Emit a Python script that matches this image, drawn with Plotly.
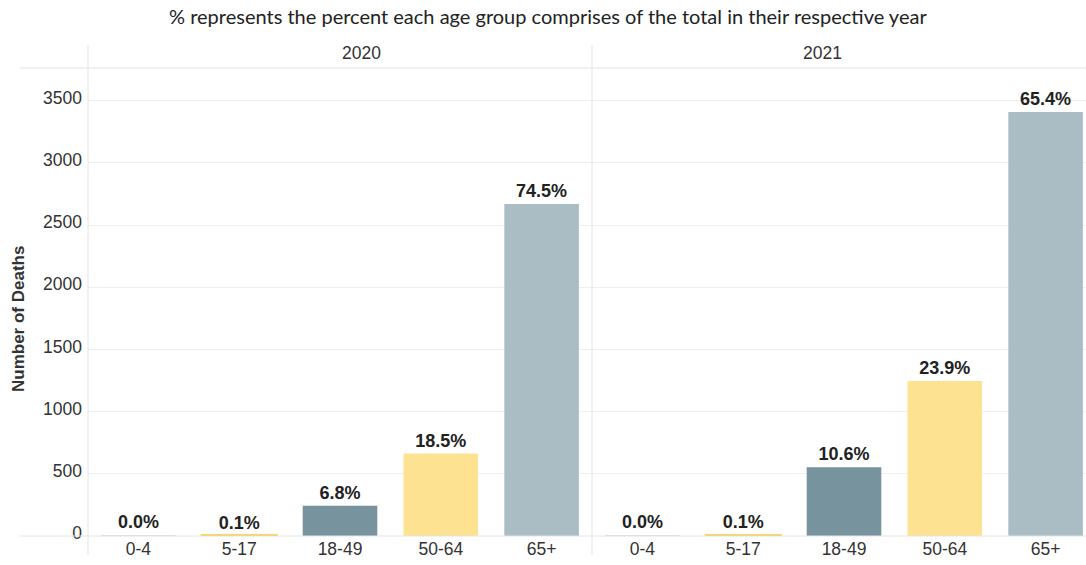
import plotly.graph_objects as go

years = ["2020", "2021"]
age_groups = ["0-4", "5-17", "18-49", "50-64", "65+"]
deaths_2020 = [1, 4, 244, 663, 2670]
deaths_2021 = [1, 5, 552, 1246, 3410]
bar_colors = ["#d9d9d9", "#f8c936", "#77939e", "#fde391", "#aabdc5"]
y_ticks = [0, 500, 1000, 1500, 2000, 2500, 3000, 3500]

YMAX = 3763
W, H = 1086, 565
L, R, T, B = 88, 0, 68, 29
PW = W - L - R
PH = H - T - B
split = (592 - L) / PW
panel1_px = 592 - L
panel2_px = W - 592
cat_px = panel1_px / 5

fig = go.Figure()
txt_font = dict(family="Liberation Sans, Arial", size=18, color="#222222")
line_widths = [0, 2.5, 0, 0, 0]

for i, (yr, vals) in enumerate(zip(years, [deaths_2020, deaths_2021])):
    total = sum(vals)
    labels = [f"<b>{v / total * 100:.1f}%</b>" for v in vals]
    fig.add_trace(go.Bar(
        x=age_groups, y=vals,
        marker=dict(color=bar_colors, line=dict(color=bar_colors, width=line_widths)),
        text=labels, textposition="outside", textfont=txt_font,
        cliponaxis=False, width=0.74, showlegend=False,
        xaxis="x" if i == 0 else "x2", yaxis="y" if i == 0 else "y2",
        hovertemplate="%{x}: %{y}<extra>" + yr + "</extra>",
    ))

tick_font = dict(family="Liberation Sans, Arial", size=17.5, color="#333333")
fig.update_layout(
    width=W, height=H,
    margin=dict(l=L, r=R, t=T, b=B),
    plot_bgcolor="white", paper_bgcolor="white",
    xaxis=dict(domain=[0, split], range=[-0.5, 4.5], showgrid=False, zeroline=False,
               showline=False, ticks="", tickfont=tick_font),
    xaxis2=dict(domain=[split, 1], range=[-0.5, -0.5 + panel2_px / cat_px], showgrid=False,
                zeroline=False, showline=False, ticks="", tickfont=tick_font, anchor="y2"),
    yaxis=dict(range=[0, YMAX], tickvals=y_ticks, showgrid=True, gridcolor="#efefef",
               zeroline=False, showline=False, ticks="", tickfont=tick_font,
               ticklabelstandoff=5, ticklabelshift=-3),
    yaxis2=dict(range=[0, YMAX], tickvals=y_ticks, showgrid=True, gridcolor="#efefef",
                zeroline=False, showline=False, showticklabels=False, anchor="x2"),
)

shapes = []
grid_x0 = (20 - L) / PW
for yv in [0, 1]:
    shapes.append(dict(type="line", xref="paper", yref="paper", x0=grid_x0, x1=1,
                       y0=yv, y1=yv, line=dict(color="#e4e4e4", width=1)))
top_v = 1 + (68 - 45) / PH
bot_v = -(555 - 536) / PH
for xv in [0, split]:
    shapes.append(dict(type="line", xref="paper", yref="paper", x0=xv, x1=xv,
                       y0=bot_v, y1=top_v, line=dict(color="#e4e4e4", width=1)))
fig.update_layout(shapes=shapes)

hdr_font = dict(family="Liberation Sans, Arial", size=17.5, color="#333333")
ann = []
hdr_y = 1 + (68 - 53) / PH
ann.append(dict(text=years[0], xref="paper", yref="paper", x=split / 2, y=hdr_y,
                showarrow=False, font=hdr_font, yanchor="middle"))
ann.append(dict(text=years[1], xref="paper", yref="paper", x=split + (panel1_px / PW) / 2,
                y=hdr_y, showarrow=False, font=hdr_font, yanchor="middle"))
ann.append(dict(text="% represents the percent each age group comprises of the total in their respective year",
                xref="paper", yref="paper", x=(548 - L) / PW, y=1 + (68 - 16) / PH,
                showarrow=False, font=dict(family="Lato, Noto Sans", size=20, color="#222222"),
                yanchor="middle"))
ann.append(dict(text="<b>Number of Deaths</b>", xref="paper", yref="paper",
                x=(18 - L) / PW, y=(536 - 319) / PH, textangle=-90,
                showarrow=False, font=dict(family="Liberation Sans, Arial", size=17, color="#333333"),
                xanchor="center", yanchor="middle"))
fig.update_layout(annotations=ann)

fig.write_html("out.html", config={"displayModeBar": False},
               post_script="document.body.style.margin='0';document.body.style.overflow='hidden';")
